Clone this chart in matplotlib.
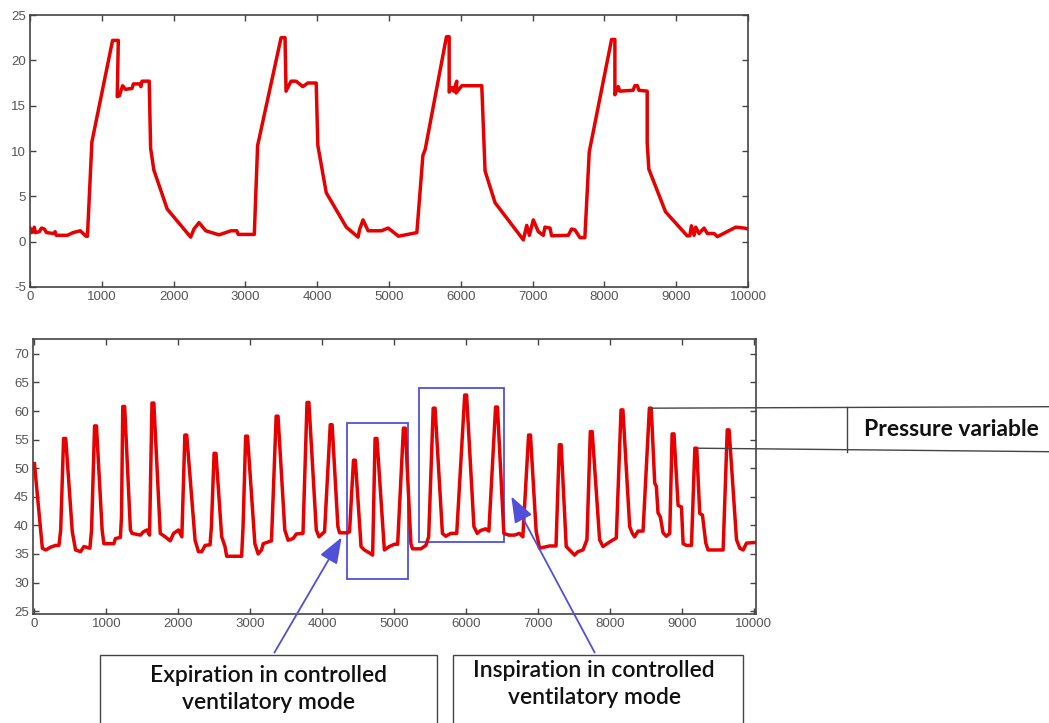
import matplotlib.pyplot as plt
from matplotlib.patches import Rectangle, ConnectionPatch, FancyArrowPatch
from matplotlib.lines import Line2D

plt.rcParams['font.family'] = ['Liberation Sans', 'DejaVu Sans']
plt.rcParams['axes.unicode_minus'] = False

# top signal (time, value)
top_t = [0, 20, 45, 60, 75, 130, 160, 200, 230, 330, 350, 365, 520, 600, 700, 780, 800,
         862, 1150, 1230, 1215, 1245, 1290, 1330, 1420, 1440, 1530, 1545, 1560, 1660,
         1680, 1725, 1911, 2238, 2284, 2354, 2448, 2634, 2797, 2880, 2900, 3124,
         3170, 3497, 3552, 3566, 3636, 3706, 3800, 3870, 3986, 4009, 4126, 4406, 4569,
         4592, 4638, 4709, 4895, 4988, 5133, 5388,
         5472, 5505, 5800, 5838, 5838, 5875, 5900, 5944, 5935, 6014, 6292, 6338, 6477,
         6871, 6918, 6955, 7010, 7080, 7149, 7172, 7242, 7265, 7497, 7543, 7590, 7659, 7728,
         7789, 8100, 8146, 8146, 8192, 8215, 8400, 8424, 8460, 8480, 8596, 8596, 8619,
         8851, 9152, 9190, 9212, 9249, 9272, 9318, 9388, 9434, 9527, 9574, 9829, 9944, 10000]
top_p = [1.5, 1.0, 1.1, 1.6, 1.0, 1.1, 1.5, 1.4, 1.0, 0.9, 1.1, 0.7, 0.7, 1.0, 1.2, 0.6, 0.6,
         11.0, 22.2, 22.2, 16.0, 16.1, 17.2, 16.8, 16.9, 17.4, 17.4, 17.1, 17.7, 17.7,
         10.3, 7.9, 3.6, 0.5, 1.4, 2.1, 1.2, 0.75, 1.2, 1.2, 0.8, 0.8,
         10.6, 22.5, 22.5, 16.6, 17.7, 17.7, 17.1, 17.5, 17.5, 10.6, 5.4, 1.6, 0.5,
         1.4, 2.4, 1.2, 1.2, 1.5, 0.6, 1.0,
         9.5, 10.2, 22.6, 22.6, 16.5, 17.0, 16.6, 17.7, 16.4, 17.2, 17.2, 7.8, 4.3,
         0.2, 1.8, 0.7, 2.4, 1.1, 0.7, 1.6, 1.5, 0.65, 0.7, 1.4, 1.3, 0.45, 0.45,
         9.9, 22.3, 22.3, 16.2, 17.1, 16.6, 16.7, 17.2, 17.2, 16.7, 16.6, 10.9, 8.0,
         3.3, 0.65, 0.65, 1.75, 0.7, 1.6, 0.9, 1.5, 0.9, 0.9, 0.55, 1.6, 1.5, 1.4]

# bottom signal (time, value)
bot_t = [0, 78, 110, 157, 226, 295, 341, 365, 405, 435, 526, 572, 641, 688, 771, 794, 836, 862,
         941, 965, 1103, 1126, 1195, 1210, 1228, 1254, 1334, 1357, 1472, 1518, 1564, 1600,
         1634, 1660, 1749, 1818, 1887, 1934, 2003, 2049, 2091, 2117, 2233, 2280, 2326, 2372,
         2441, 2460, 2497, 2523, 2603, 2649, 2672, 2880, 2900, 2936, 2962, 3064, 3110, 3157,
         3180, 3295, 3360, 3386, 3480, 3526, 3595, 3641, 3733, 3789, 3815, 3918, 3955, 4033,
         4112, 4138, 4218, 4241, 4356, 4380, 4435, 4461, 4540, 4586, 4655, 4701, 4735, 4761,
         4864, 4933, 5003, 5049, 5129, 5155, 5233, 5256, 5372, 5441, 5480, 5543, 5569, 5671,
         5718, 5787, 5870, 5981, 6007, 6109, 6155, 6201, 6271, 6317, 6410, 6436, 6525, 6594,
         6673, 6742, 6789, 6869, 6895, 6974, 7021, 7160, 7250, 7296, 7322, 7392, 7462, 7508,
         7555, 7625, 7680, 7727, 7753, 7856, 7903, 7995, 8088, 8154, 8180, 8274, 8311, 8343,
         8390, 8460, 8548, 8574, 8622, 8645, 8668, 8700, 8738, 8784, 8831, 8864, 8890, 8947,
         8994, 9017, 9063, 9133, 9180, 9206, 9248, 9286, 9332, 9364, 9573, 9630, 9656, 9759,
         9805, 9852, 9898, 10014]
bot_p = [50.8, 40.3, 36.0, 35.7, 36.2, 36.5, 36.5, 39.2, 55.2, 55.2, 38.9, 35.7, 35.4, 36.3,
         36.0, 39.2, 57.4, 57.4, 39.2, 36.8, 36.8, 37.7, 37.9, 41.5, 60.8, 60.8, 39.2, 38.6,
         38.3, 38.9, 39.2, 38.3, 61.4, 61.4, 38.6, 38.0, 37.3, 38.6, 39.2, 38.0, 55.8, 55.8,
         37.4, 35.4, 35.4, 36.5, 36.6, 39.8, 52.6, 52.6, 38.0, 36.3, 34.6, 34.6, 39.8, 55.6,
         55.6, 36.8, 35.0, 35.7, 36.8, 37.3, 59.1, 59.1, 39.2, 37.4, 37.7, 38.5, 38.6, 61.5,
         61.5, 39.2, 38.0, 38.9, 57.6, 57.6, 39.8, 38.7, 38.7, 38.9, 51.4, 51.4, 36.3, 35.7,
         35.2, 34.8, 55.2, 55.2, 35.7, 36.3, 36.7, 36.7, 57.0, 57.0, 36.8, 35.9, 35.9, 36.5,
         38.0, 60.5, 60.5, 38.6, 38.1, 38.6, 38.6, 62.8, 62.8, 39.8, 38.6, 39.1, 39.4, 39.0,
         60.7, 60.7, 38.6, 38.3, 38.3, 38.6, 38.0, 55.8, 55.8, 39.0, 36.0, 36.4, 36.4, 54.1,
         54.1, 36.3, 35.4, 34.8, 35.4, 35.7, 37.5, 56.4, 56.4, 37.5, 36.3, 37.1, 37.8, 60.2,
         60.2, 39.8, 38.6, 38.0, 39.0, 39.0, 60.5, 60.5, 47.4, 46.8, 42.2, 41.5, 38.7, 38.1,
         38.6, 56.0, 56.0, 43.5, 43.2, 36.8, 36.5, 36.5, 53.5, 53.5, 42.1, 41.8, 36.9, 35.7,
         35.7, 56.7, 56.7, 37.5, 36.0, 35.7, 36.9, 37.0]

top_xticks = list(range(0, 10001, 1000))
top_yticks = [-5, 0, 5, 10, 15, 20, 25]
bot_yticks = [25, 30, 35, 40, 45, 50, 55, 60, 65, 70]

W, H = 1049, 723
fig = plt.figure(figsize=(W / 100, H / 100), dpi=100)


def fp(x, y):
    return (x / W, 1 - y / H)


ax1 = fig.add_axes([30 / W, 1 - 287 / H, 718 / W, 272 / H])
ax2 = fig.add_axes([33 / W, 1 - 614 / H, 723 / W, 275 / H])

for ax in (ax1, ax2):
    ax.tick_params(direction='in', top=True, right=True, length=4, width=1,
                   labelsize=9.5, labelcolor='#555555', color='#444444', pad=3)
    for s in ax.spines.values():
        s.set_color('#444444')
        s.set_linewidth(1.2)
    ax.set_xticks(top_xticks)

ax1.plot(top_t, top_p, color='#e60000', lw=2.5, solid_joinstyle='round')
ax1.set_xlim(0, 10000)
ax1.set_ylim(-5, 25)
ax1.set_yticks(top_yticks)

ax2.plot(bot_t, bot_p, color='#e60000', lw=2.5, solid_joinstyle='round')
ax2.set_xlim(-20, 10030)
ax2.set_ylim(24.5, 72.6)
ax2.set_yticks(bot_yticks)

# blue highlight boxes
blue = '#5050d8'
ax2.add_patch(Rectangle((4338, 30.6), 5196 - 4338, 57.9 - 30.6, fill=False,
                        ec=blue, lw=1.3, clip_on=False))
ax2.add_patch(Rectangle((5341, 37.1), 6534 - 5341, 64.0 - 37.1, fill=False,
                        ec=blue, lw=1.3, clip_on=False))

# arrows
for tail, head in [((273, 655), (343, 535)), ((596, 655), (510, 494))]:
    fig.add_artist(FancyArrowPatch(fp(*tail), fp(*head), transform=fig.transFigure,
                                   arrowstyle='-|>,head_length=0.8,head_width=0.3',
                                   mutation_scale=20, color=blue, lw=1.3))

# label boxes
gray = '#444444'
fig.add_artist(Rectangle(fp(100, 725), 337 / W, 70 / H, transform=fig.transFigure,
                         fill=False, ec=gray, lw=1))
fig.add_artist(Rectangle(fp(453, 725), 290 / W, 70 / H, transform=fig.transFigure,
                         fill=False, ec=gray, lw=1))
fig.text(*fp(269, 689), 'Expiration in controlled\nventilatory mode', ha='center', va='center',
         fontsize=16.5, family=['Lato', 'DejaVu Sans'], fontweight='semibold',
         linespacing=1.4, color='#111111')
fig.text(*fp(594, 684), 'Inspiration in controlled\nventilatory mode', ha='center', va='center',
         fontsize=16.5, family=['Lato', 'DejaVu Sans'], fontweight='semibold',
         linespacing=1.4, color='#111111')

# pressure variable pointer
fig.add_artist(ConnectionPatch(xyA=(8561, 60.5), coordsA=ax2.transData,
                               xyB=fp(1049, 406.7), coordsB=fig.transFigure,
                               color=gray, lw=1))
fig.add_artist(ConnectionPatch(xyA=(9215, 53.5), coordsA=ax2.transData,
                               xyB=fp(1049, 451.7), coordsB=fig.transFigure,
                               color=gray, lw=1))
fig.add_artist(Line2D([847 / W, 847 / W], [1 - 407 / H, 1 - 452 / H],
                      transform=fig.transFigure, color=gray, lw=1))
fig.text(*fp(951, 429), 'Pressure variable', ha='center', va='center', fontsize=16.5,
         family=['Lato', 'DejaVu Sans'], fontweight='bold', color='#111111')

fig.savefig('out.png', dpi=100)
